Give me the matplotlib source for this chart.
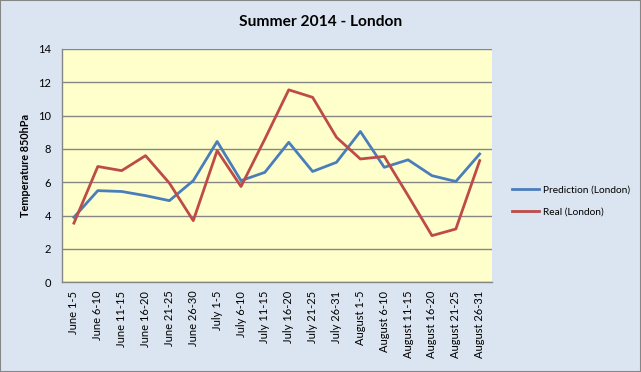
import numpy as np
import matplotlib
matplotlib.use('Agg')
import matplotlib.pyplot as plt
from matplotlib.patches import Rectangle

plt.rcParams['font.family'] = ['Lato', 'DejaVu Sans']

# periods of summer 2014
periods = ['June 1-5', 'June 6-10', 'June 11-15', 'June 16-20', 'June 21-25',
           'June 26-30', 'July 1-5', 'July 6-10', 'July 11-15', 'July 16-20',
           'July 21-25', 'July 26-31', 'August 1-5', 'August 6-10',
           'August 11-15', 'August 16-20', 'August 21-25', 'August 26-31']

# temperature at 850hPa
prediction = [3.9, 5.5, 5.45, 5.2, 4.9, 6.1, 8.45, 6.1, 6.6, 8.4,
              6.65, 7.2, 9.05, 6.9, 7.35, 6.4, 6.05, 7.7]
real = [3.55, 6.95, 6.7, 7.6, 5.95, 3.7, 7.9, 5.75, 8.6, 11.55,
        11.1, 8.7, 7.4, 7.55, 5.2, 2.8, 3.2, 7.3]

fig = plt.figure(figsize=(6.41, 3.72), dpi=100, facecolor='#DBE5F1')
ax = fig.add_axes([0.0967, 0.2411, 0.6703, 0.6272])
ax.set_facecolor('#FFFFCC')

x = np.arange(len(periods))
ax.plot(x, prediction, color='#4A7EBB', lw=2, label='Prediction (London)')
ax.plot(x, real, color='#BE4B48', lw=2, label='Real (London)')

ax.set_xlim(-0.5, len(periods) - 0.5)
ax.set_ylim(0, 14)
ax.set_yticks(np.arange(0, 15, 2))
ax.set_xticks(x)
ax.set_xticklabels(periods, rotation=90, fontsize=8)
ax.tick_params(axis='x', length=0, pad=6)
ax.tick_params(axis='y', labelsize=8, length=0, pad=8)
ax.grid(axis='y', color='#868686', lw=1)
ax.set_axisbelow(True)
for s in ['top', 'right']:
    ax.spines[s].set_visible(False)
for s in ['left', 'bottom']:
    ax.spines[s].set_color('#868686')
    ax.spines[s].set_linewidth(1)

ax.set_ylabel('Temperature 850hPa', fontsize=7.8, fontweight='bold', labelpad=5)
fig.text(0.5, 0.941, 'Summer 2014 - London', ha='center', va='center',
         fontsize=11.2, fontweight='bold')

fig.legend(loc='center left', bbox_to_anchor=(0.785, 0.46), frameon=False,
           fontsize=7.3, handlelength=2.6, handletextpad=0.4, labelspacing=1.25)

fig.patches.append(Rectangle((0, 0), 1, 1, transform=fig.transFigure,
                             fill=False, edgecolor='#868686', lw=1.5))

plt.savefig('out.png', dpi=100, facecolor=fig.get_facecolor())
